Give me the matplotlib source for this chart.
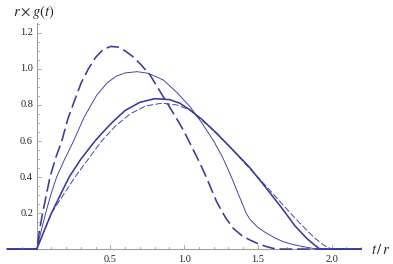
import matplotlib
matplotlib.use("Agg")
import matplotlib.pyplot as plt
import numpy as np

# Curve A: thick long-dashed
a_x = [-0.2, 0.0, 0.02, 0.04, 0.065, 0.09, 0.13, 0.17, 0.21, 0.25, 0.3, 0.35, 0.4, 0.45, 0.5,
       0.55, 0.6, 0.65, 0.7, 0.768, 0.858, 0.93, 0.994, 1.05, 1.107, 1.153, 1.22, 1.28, 1.333,
       1.39, 1.446, 1.5, 1.56, 1.62, 2.2]
a_y = [0.0, 0.0, 0.11, 0.2, 0.3, 0.4, 0.51, 0.6, 0.72, 0.81, 0.92, 1.0, 1.065, 1.108, 1.125,
       1.122, 1.10, 1.07, 1.03, 0.967, 0.846, 0.75, 0.661, 0.57, 0.476, 0.393, 0.263, 0.175, 0.115,
       0.075, 0.05, 0.03, 0.013, 0.0, 0.0]
# Curve B: thin solid
b_x = [-0.2, 0.0, 0.03, 0.061, 0.095, 0.135, 0.19, 0.25, 0.32, 0.407, 0.48, 0.54, 0.6, 0.68,
       0.757, 0.858, 0.95, 1.04, 1.12, 1.2, 1.26, 1.31, 1.36, 1.40, 1.42, 1.446, 1.5, 1.56, 1.62,
       1.67, 1.73, 1.785, 1.85, 1.9, 2.2]
b_y = [0.0, 0.0, 0.1, 0.2, 0.3, 0.4, 0.5, 0.6, 0.73, 0.855, 0.925, 0.96, 0.978, 0.985,
       0.976, 0.939, 0.87, 0.79, 0.70, 0.6, 0.51, 0.42, 0.32, 0.24, 0.2, 0.165, 0.12, 0.087, 0.06,
       0.041, 0.027, 0.017, 0.007, 0.0, 0.0]
# Curve C: thick solid
c_x = [-0.2, 0.0, 0.05, 0.1, 0.16, 0.22, 0.3, 0.395, 0.45, 0.52, 0.6, 0.7, 0.8, 0.9, 0.97, 1.04,
       1.12, 1.22, 1.33, 1.44, 1.55, 1.672, 1.75, 1.83, 1.88, 1.92, 2.2]
c_y = [0.0, 0.0, 0.1, 0.2, 0.3, 0.4, 0.5, 0.6, 0.65, 0.71, 0.77, 0.815, 0.835, 0.83, 0.81, 0.772,
       0.72, 0.643, 0.55, 0.457, 0.345, 0.217, 0.13, 0.06, 0.025, 0.0, 0.0]
# Curve D: thin dashed
d_x = [-0.2, 0.0, 0.05, 0.1, 0.18, 0.26, 0.35, 0.44, 0.53, 0.632, 0.74, 0.85, 0.95, 1.04, 1.17,
       1.31, 1.44, 1.56, 1.67, 1.785, 1.88, 1.94, 1.966, 2.0, 2.2]
d_y = [0.0, 0.0, 0.1, 0.2, 0.3, 0.4, 0.5, 0.6, 0.68, 0.75, 0.795, 0.81, 0.80, 0.772, 0.68,
       0.568, 0.45, 0.346, 0.245, 0.143, 0.065, 0.025, 0.013, 0.0, 0.0]

x_major = [0.5, 1.0, 1.5, 2.0]
x_labels = ["0.5", "1.0", "1.5", "2.0"]
y_major = [0.2, 0.4, 0.6, 0.8, 1.0, 1.2]
y_labels = ["0.2", "0.4", "0.6", "0.8", "1.0", "1.2"]

col = "#3a3a9c"
axcol = "#a0a0a0"
serif = ["Liberation Serif", "DejaVu Serif"]

fig = plt.figure(figsize=(3.93, 2.64), dpi=100)
ax = fig.add_axes([0, 0, 1, 1])
ax.set_xlim(-0.249, 2.416)
ax.set_ylim(-0.083, 1.383)
ax.axis("off")

# axes lines
ax.plot([-0.2, 2.2], [0, 0], color=axcol, lw=0.8, zorder=1)
ax.plot([0, 0], [0, 1.255], color=axcol, lw=0.8, zorder=1)

xpx = 147.5
ypx = 180.0
for xv in np.arange(-0.1, 2.21, 0.1):
    xv = round(xv, 2)
    if abs(xv) < 1e-9:
        continue
    major = any(abs(xv - m) < 1e-9 for m in x_major)
    h = (4.0 if major else 2.5) / ypx
    ax.plot([xv, xv], [0, h], color=axcol, lw=0.6, zorder=1)
for xv, lab in zip(x_major, x_labels):
    ax.text(xv, -0.033, lab, ha="center", va="top", fontsize=7.5, family=serif, color="#222222")

for yv in np.arange(0.05, 1.251, 0.05):
    yv = round(yv, 2)
    major = any(abs(yv - m) < 1e-9 for m in y_major)
    w = (4.0 if major else 2.5) / xpx
    ax.plot([0, w], [yv, yv], color=axcol, lw=0.6, zorder=1)
for yv, lab in zip(y_major, y_labels):
    ax.text(-0.025, yv, lab, ha="right", va="center", fontsize=7.5, family=serif, color="#222222")

# curves
ax.plot(a_x, a_y, color=col, lw=1.15, dashes=(8, 3), zorder=3)
ax.plot(b_x, b_y, color=col, lw=0.65, zorder=3)
ax.plot(c_x, c_y, color=col, lw=1.15, zorder=3)
ax.plot(d_x, d_y, color=col, lw=0.65, dashes=(7, 2.5), zorder=3)

ax.text(2.27, 0.0, r"$t\,/\,r$", ha="left", va="center", fontsize=10.5, color="#222222",
        math_fontfamily="stix")
ax.text(-0.16, 1.318, r"$r \times g(t)$", ha="left", va="center", fontsize=10.5, color="#222222",
        math_fontfamily="stix")

fig.savefig("out.png", dpi=100)
